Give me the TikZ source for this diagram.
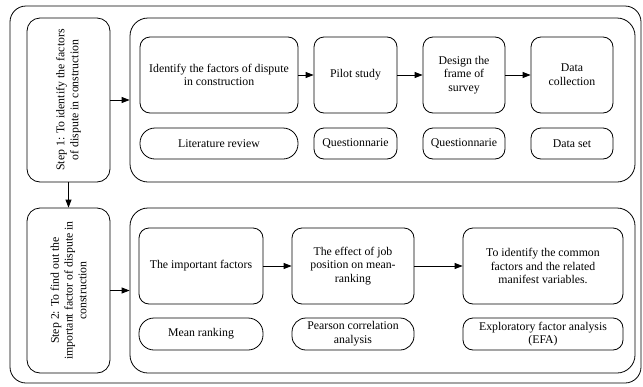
\documentclass[tikz,border=0pt]{standalone}
\usepackage{fontspec}
\setmainfont{Liberation Serif}
\usetikzlibrary{arrows.meta,positioning}

\begin{document}
\begin{tikzpicture}[
    x=1pt, y=-1pt,
    every node/.style={font=\fontsize{11.8}{13.8}\selectfont},
    frame/.style={rectangle, draw, line width=0.8pt, rounded corners=18pt},
    stepbox/.style={rectangle, draw, line width=0.8pt, rounded corners=13pt, align=center, rotate=90, minimum width=164pt, minimum height=83pt, inner sep=2pt},
    block/.style={rectangle, draw, line width=0.8pt, rounded corners=10pt, align=center, minimum height=76pt, inner sep=2pt},
    method/.style={rectangle, draw, line width=0.8pt, rounded corners=10pt, align=center, minimum height=31pt, inner sep=1pt},
    arrow/.style={-{Triangle[length=8pt,width=6pt]}, line width=0.8pt}
]
    \useasboundingbox (0,0) rectangle (643,386);

    % Outer frame
    \node[frame, rounded corners=16pt, minimum width=631pt, minimum height=377pt] (outer) at (325.5,194.5) {};

    % Steps
    \node[stepbox] (step1) at (68.5,100) {Step 1: To identify the factors\\of dispute in construction};
    \node[stepbox, minimum width=165pt] (step2) at (68.5,290.5) {Step 2: To find out the\\important factor of dispute in\\construction};

    % Groups
    \node[frame, minimum width=505pt, minimum height=164pt] (group1) at (382.5,100) {};
    \node[frame, minimum width=505pt, minimum height=165pt] (group2) at (382.5,290.5) {};

    % Step 1 blocks
    \node[block, minimum width=158pt] (ident) at (219,75) {Identify the factors of dispute\\in construction};
    \node[block, minimum width=83pt] (pilot) at (355.5,75) {Pilot study};
    \node[block, minimum width=82pt] (design) at (464,75) {Design the\\frame of\\survey};
    \node[block, minimum width=82pt] (collect) at (572,75) {Data\\collection};

    \node[method, minimum width=158pt, rounded corners=15pt] (litrev) at (219,143.5) {Literature review};
    \node[method, minimum width=83pt] (quest1) at (355.5,143.5) {Questionnarie};
    \node[method, minimum width=82pt] (quest2) at (464,143.5) {Questionnarie};
    \node[method, minimum width=82pt] (dataset) at (572,143.5) {Data set};

    % Step 2 blocks
    \node[block, minimum width=124pt] (factors) at (201,266) {The important factors};
    \node[block, minimum width=122pt] (effect) at (353,266) {The effect of job\\position on mean-\\ranking};
    \node[block, minimum width=160pt] (common) at (543,266) {To identify the common\\factors and the related\\manifest variables.};

    \node[method, minimum width=124pt, minimum height=32pt, rounded corners=15pt] (meanrank) at (201,334) {Mean ranking};
    \node[method, minimum width=122pt, minimum height=32pt, rounded corners=14pt] (pearson) at (353,334) {Pearson correlation\\analysis};
    \node[method, minimum width=160pt, minimum height=32pt] (efa) at (543,334) {Exploratory factor analysis\\(EFA)};

    \draw[arrow] (step1) -- (group1);
    \draw[arrow] (step2) -- (group2);
    \draw[arrow] (step1) -- (step2);

    \draw[arrow] (ident) -- (pilot);
    \draw[arrow] (pilot) -- (design);
    \draw[arrow] (design) -- (collect);

    \draw[arrow] (factors) -- (effect);
    \draw[arrow] (effect) -- (common);
\end{tikzpicture}
\end{document}
